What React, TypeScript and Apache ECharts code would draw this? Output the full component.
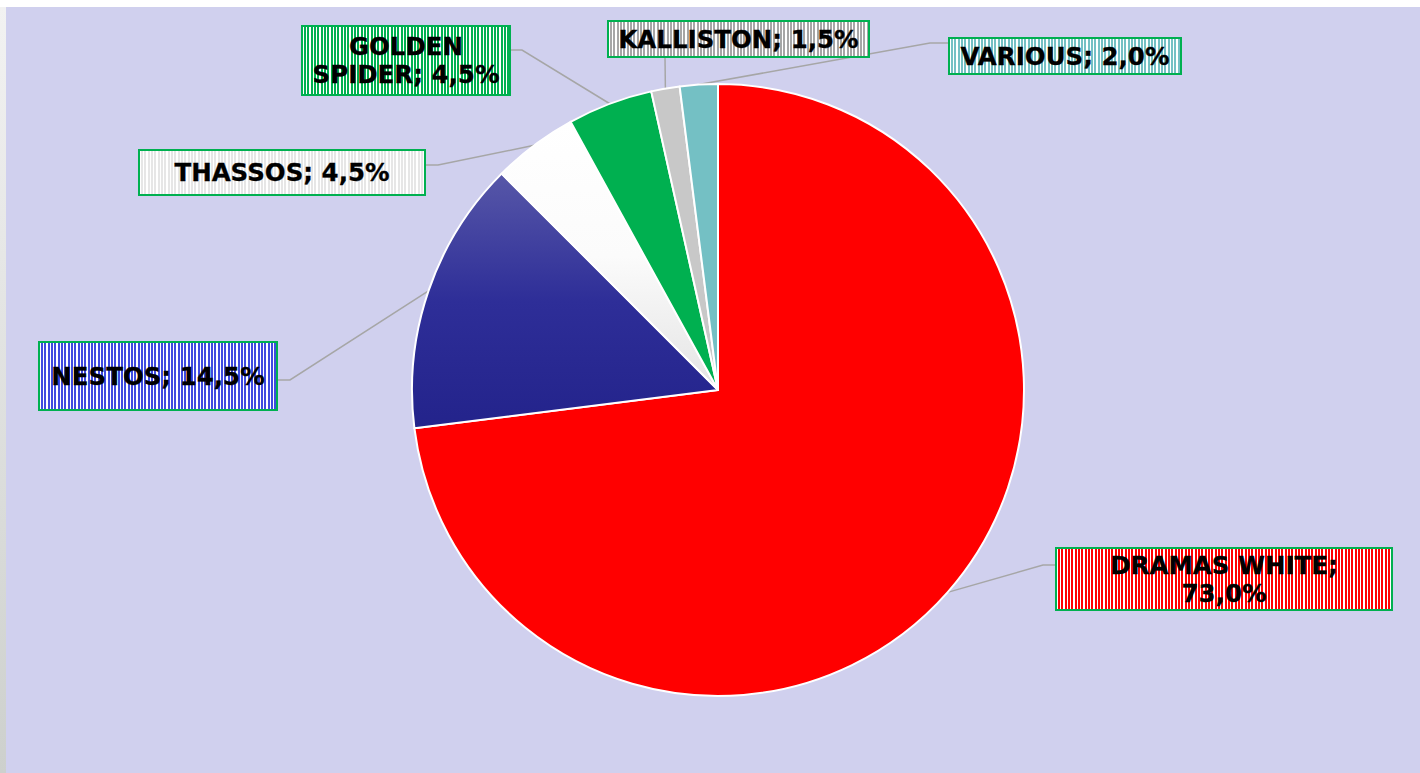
import React, { useEffect, useRef } from "react";
import * as echarts from "echarts";

// ---- data ----
const categories = ["DRAMAS WHITE", "NESTOS", "THASSOS", "GOLDEN SPIDER", "KALLISTON", "VARIOUS"];
const shares = [73.0, 14.5, 4.5, 4.5, 1.5, 2.0];
// how the label text wraps: 0 = one line, 1 = break before value, 2 = break after first word
const labelWrap = [1, 0, 0, 2, 0, 0];

// ---- styles / layout ----
const stripeColors = ["#FF0000", "#3F4BE0", "#E6E6E6", "#00B050", "#A6A6A6", "#74C0C4"];
// label boxes: centre x, centre y, width, height, line height
const boxes = [
  { cx: 1218, cy: 572, w: 338, h: 64, lh: 28 },
  { cx: 152, cy: 369, w: 240, h: 70, lh: 26 },
  { cx: 276, cy: 165.5, w: 288, h: 47, lh: 26 },
  { cx: 400, cy: 53.5, w: 210, h: 71, lh: 28 },
  { cx: 732.5, cy: 32, w: 263, h: 38, lh: 26 },
  { cx: 1059, cy: 49, w: 234, h: 38, lh: 26 },
];
// leader line elbows (after the anchor on the pie edge)
const elbows = [
  [[1037, 558], [1049, 558]],
  [[284, 373], [272, 373]],
  [[432, 158], [420, 158]],
  [[516, 43], [505, 43]],
  [[659, 51]],
  [[924, 36], [942, 36]],
];

function stripeCanvas(w: number, h: number, color: string): HTMLCanvasElement {
  const cv = document.createElement("canvas");
  cv.width = w;
  cv.height = h;
  const ctx = cv.getContext("2d")!;
  ctx.fillStyle = "#FFFFFF";
  ctx.fillRect(0, 0, w, h);
  ctx.fillStyle = color;
  // three stripes every 10 px
  for (let x = 0; x < w; x += 10) {
    ctx.fillRect(x, 0, 2, h);
    ctx.fillRect(x + 3, 0, 2, h);
    ctx.fillRect(x + 6, 0, 2, h);
  }
  ctx.strokeStyle = "#00B050";
  ctx.lineWidth = 2;
  ctx.strokeRect(1, 1, w - 2, h - 2);
  return cv;
}

function labelText(i: number): string {
  const name = categories[i];
  const val = shares[i].toFixed(1).replace(".", ",") + "%";
  if (labelWrap[i] === 1) return name + ";\n" + val;
  if (labelWrap[i] === 2) {
    const sp = name.indexOf(" ");
    return name.slice(0, sp) + "\n" + name.slice(sp + 1) + "; " + val;
  }
  return name + "; " + val;
}

export default function App() {
  const ref = useRef<HTMLDivElement>(null);

  useEffect(() => {
    if (!ref.current) return;
    const chart = echarts.init(ref.current, undefined, { renderer: "svg" });

    const itemColors: any[] = [
      "#FF0000",
      {
        type: "linear", x: 0, y: 0, x2: 0, y2: 1,
        colorStops: [
          { offset: 0, color: "#5757A8" },
          { offset: 0.5, color: "#2E2E98" },
          { offset: 1, color: "#23238B" },
        ],
      },
      {
        type: "linear", x: 0, y: 0, x2: 0, y2: 1,
        colorStops: [
          { offset: 0, color: "#FFFFFF" },
          { offset: 0.5, color: "#FBFBFB" },
          { offset: 1, color: "#E4E4E4" },
        ],
      },
      "#00B050",
      "#C8C8C8",
      "#74C0C4",
    ];

    const data = categories.map((name, i) => {
      const b = boxes[i];
      const nLines = labelWrap[i] === 0 ? 1 : 2;
      const pv = (b.h - nLines * b.lh) / 2;
      return {
        name,
        value: shares[i],
        itemStyle: { color: itemColors[i] },
        label: {
          width: b.w,
          lineHeight: b.lh,
          padding: [pv, 0, pv, 0],
          backgroundColor: { image: stripeCanvas(b.w, b.h, stripeColors[i]) },
        },
      };
    });

    chart.setOption({
      animation: false,
      backgroundColor: "#D0D0EE",
      series: [
        {
          type: "pie",
          center: [712, 383],
          radius: 306,
          startAngle: 90,
          clockwise: true,
          data,
          itemStyle: { borderColor: "#FFFFFF", borderWidth: 2 },
          emphasis: { disabled: true },
          label: {
            show: true,
            position: "outside",
            overflow: "none",
            align: "center",
            color: "#000000",
            fontFamily: "'DejaVu Sans', sans-serif",
            fontWeight: "bold",
            fontSize: 24.5,
            textBorderColor: "#000000",
            textBorderWidth: 0.3,
            formatter: (p: any) => labelText(p.dataIndex),
          },
          labelLine: {
            show: true,
            length: 20,
            length2: 10,
            lineStyle: { color: "#A6A6A6", width: 1.5 },
          },
          labelLayout: (params: any) => {
            const i = params.dataIndex;
            const b = boxes[i];
            const anchor = params.labelLinePoints ? params.labelLinePoints[0] : null;
            const res: any = {
              x: b.cx,
              y: b.cy,
              align: "center",
              verticalAlign: "middle",
              hideOverlap: false,
            };
            if (anchor) res.labelLinePoints = [anchor, ...elbows[i]];
            return res;
          },
        },
      ],
    });

    return () => chart.dispose();
  }, []);

  return (
    <div style={{ position: "fixed", left: 0, top: 0, width: 1420, height: 773, background: "#FFFFFF" }}>
      <div
        style={{
          position: "absolute",
          left: 0,
          top: 7,
          width: 6,
          height: 766,
          background: "linear-gradient(#F2F2F2, #CDD0CD)",
        }}
      />
      <div ref={ref} style={{ position: "absolute", left: 6, top: 7, width: 1414, height: 766 }} />
    </div>
  );
}
